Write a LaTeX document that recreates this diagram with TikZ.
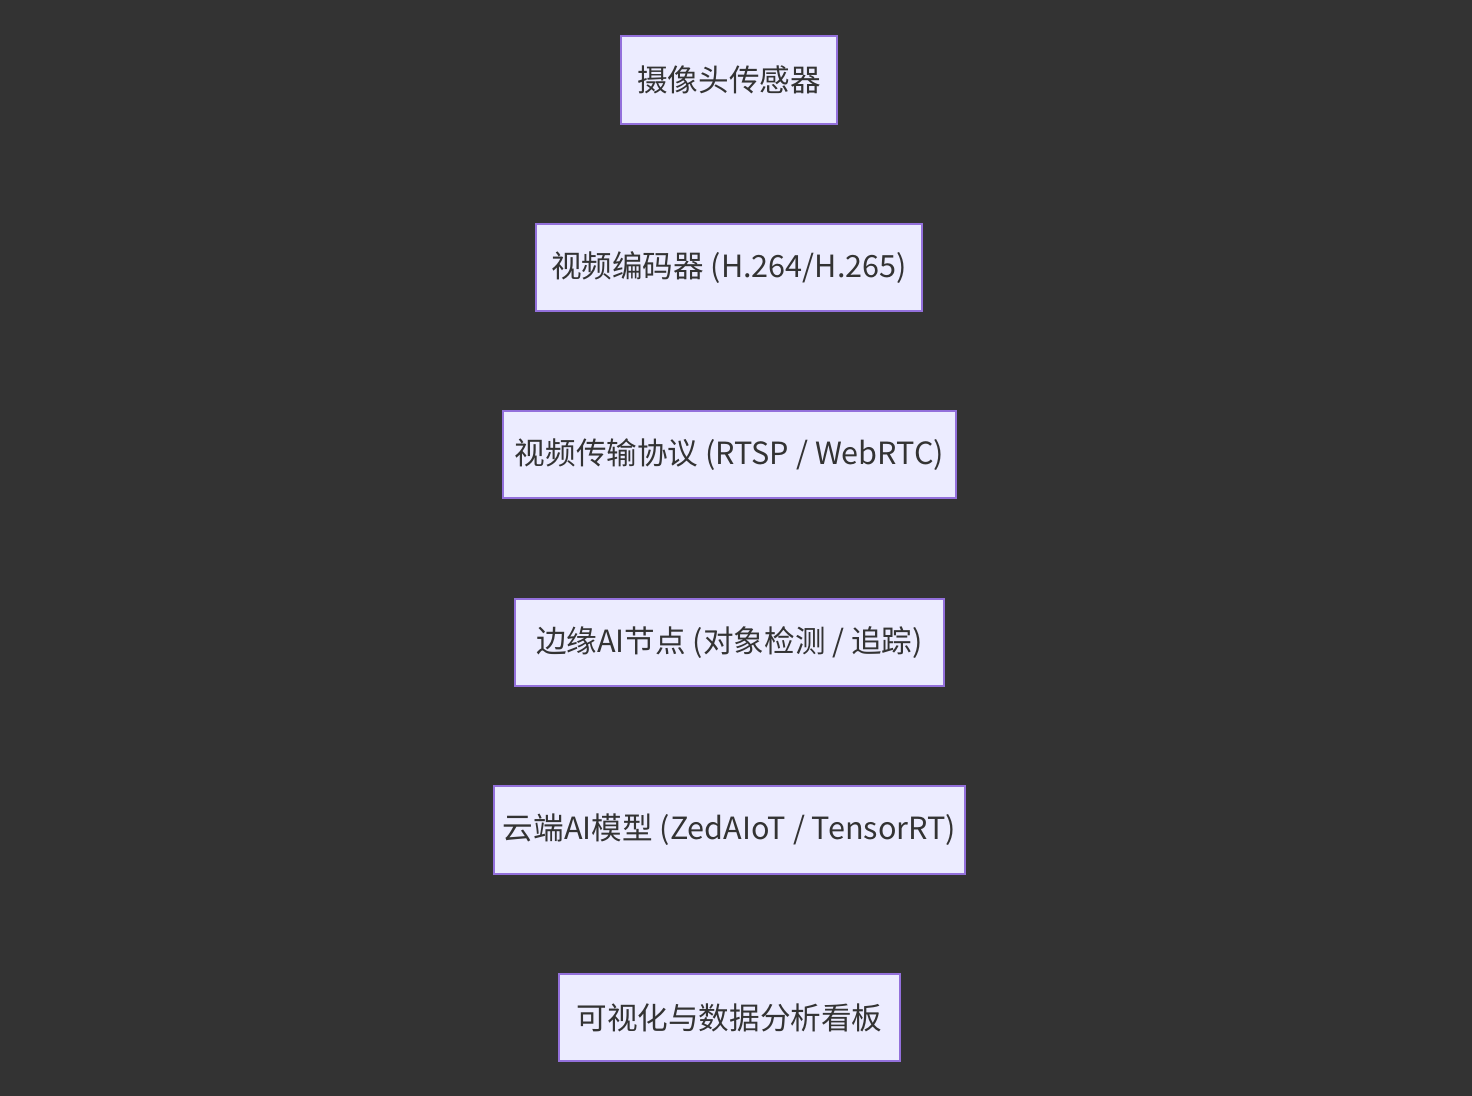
\documentclass[tikz,border=0pt]{standalone}
\usepackage{fontspec}
\setmainfont{Noto Sans CJK SC}
\begin{document}
\begin{tikzpicture}[x=0.5pt,y=-0.5pt,
  box/.style={draw=boxstroke,fill=boxfill,line width=1pt,text=boxtext,
    inner sep=0pt,font=\fontsize{15.3}{18}\selectfont}]
\definecolor{bg}{HTML}{333333}
\definecolor{boxfill}{HTML}{ECECFF}
\definecolor{boxstroke}{HTML}{9370DB}
\definecolor{boxtext}{HTML}{333333}
\fill[bg] (0,0) rectangle (1472,1096);
\useasboundingbox (0,0) rectangle (1472,1096);
\node[box,minimum width=108pt,minimum height=44pt] (n1) at (729,80) {摄像头传感器};
\node[box,minimum width=193pt,minimum height=43.5pt] (n2) at (729,267.5) {视频编码器 (H.264/H.265)};
\node[box,minimum width=226.5pt,minimum height=43.5pt] (n3) at (729.5,454.5) {视频传输协议 (RTSP / WebRTC)};
\node[box,minimum width=214.5pt,minimum height=43.5pt] (n4) at (729.5,642.5) {边缘AI节点 (对象检测 / 追踪)};
\node[box,minimum width=235.5pt,minimum height=44pt] (n5) at (729.5,830) {云端AI模型 (ZedAIoT / TensorRT)};
\node[box,minimum width=170.5pt,minimum height=43.5pt] (n6) at (729.5,1017.5) {可视化与数据分析看板};
\end{tikzpicture}
\end{document}
